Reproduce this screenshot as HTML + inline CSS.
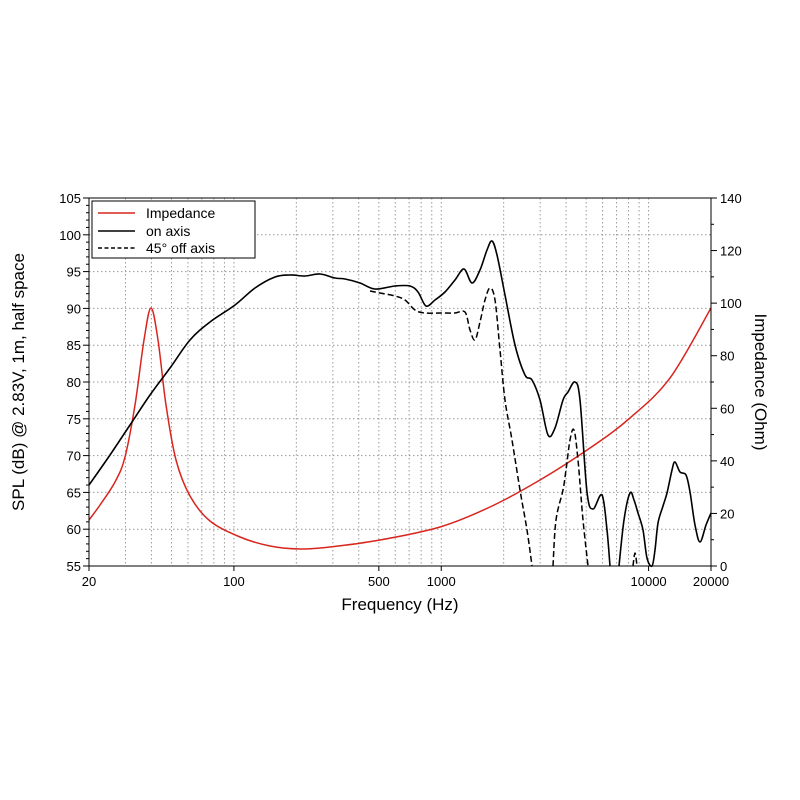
<!DOCTYPE html>
<html><head><meta charset="utf-8"><style>
html,body{margin:0;padding:0;background:#fff;width:800px;height:800px;overflow:hidden}
text{font-family:"Liberation Sans",Arial,sans-serif;fill:#000}
</style></head><body>
<svg id="s" width="800" height="800" xmlns="http://www.w3.org/2000/svg">
<g id="grid" stroke="#999" stroke-width="1" stroke-dasharray="1.5,2.5"></g>
<g id="ticks" stroke="#000" stroke-width="1"></g>
<g id="labels" font-size="13"></g>
<g fill="none" stroke-linejoin="round">
<path id="red" stroke="#d8261e" stroke-width="1.5"/>
<path id="on1" stroke="#000" stroke-width="1.6"/>
<path id="on2" stroke="#000" stroke-width="1.6"/>
<path id="on3" stroke="#000" stroke-width="1.6"/>
<path id="d1" stroke="#000" stroke-width="1.5" stroke-dasharray="6,3"/>
<path id="d2" stroke="#000" stroke-width="1.5" stroke-dasharray="6,3"/>
<path id="d3" stroke="#000" stroke-width="1.5" stroke-dasharray="6,3"/>
</g>
<rect x="89" y="198" width="622" height="368" fill="none" stroke="#000" stroke-width="1"/>
<rect x="92" y="201" width="163" height="57" fill="#fff" stroke="#000" stroke-width="1"/>
<line x1="98" y1="213" x2="135" y2="213" stroke="#d8261e" stroke-width="1.5"/>
<line x1="98" y1="231" x2="135" y2="231" stroke="#000" stroke-width="1.6"/>
<line x1="98" y1="248" x2="135" y2="248" stroke="#000" stroke-width="1.5" stroke-dasharray="4,2.5"/>
<text x="146" y="218" font-size="14">Impedance</text>
<text x="146" y="236" font-size="14">on axis</text>
<text x="146" y="253" font-size="14">45° off axis</text>
<text x="400" y="610" font-size="17" text-anchor="middle">Frequency (Hz)</text>
<text transform="translate(24,382) rotate(-90)" font-size="17" text-anchor="middle">SPL (dB) @ 2.83V, 1m, half space</text>
<text transform="translate(755,382) rotate(90)" font-size="17" text-anchor="middle">Impedance (Ohm)</text>
</svg>
<script>
var L=89,R=711,T=198,B=566,NS="http://www.w3.org/2000/svg";
function X(f){return L+(R-L)/3*Math.log10(f/20);}
function el(p,n,a,t){var e=document.createElementNS(NS,n);for(var k in a)e.setAttribute(k,a[k]);if(t!=null)e.textContent=t;document.getElementById(p).appendChild(e);}
var fs=[30,40,50,60,70,80,90,100,200,300,400,500,600,700,800,900,1000,2000,3000,4000,5000,6000,7000,8000,9000,10000];
fs.forEach(function(f){var x=X(f);el("grid","line",{x1:x,x2:x,y1:T,y2:B});});
for(var d=60;d<=100;d+=5){var y=B-(d-55)*7.36;el("grid","line",{x1:L,x2:R,y1:y,y2:y});}
for(var d=55;d<=105;d++){var y=B-(d-55)*7.36;el("ticks","line",{x1:L-(d%5?3:6),x2:L,y1:y,y2:y});if(d%5==0)el("labels","text",{x:L-8,y:y+5,"text-anchor":"end"},d);}
for(var o=0;o<=140;o+=10){var y=B-o*368/140;el("ticks","line",{x1:R,x2:R+(o%20?3:6),y1:y,y2:y});if(o%20==0)el("labels","text",{x:R+9,y:y+5},o);}
[20,100,500,1000,10000,20000].forEach(function(f){var x=X(f);el("ticks","line",{x1:x,x2:x,y1:B,y2:B+5});el("labels","text",{x:x,y:B+20,"text-anchor":"middle"},f);});
function sm(p){var s="M"+p[0][0]+","+p[0][1];for(var i=0;i<p.length-1;i++){var a=p[i-1]||p[i],b=p[i],c=p[i+1],d=p[i+2]||c;
s+=" C"+(b[0]+(c[0]-a[0])/6).toFixed(1)+","+(b[1]+(c[1]-a[1])/6).toFixed(1)+" "+(c[0]-(d[0]-b[0])/6).toFixed(1)+","+(c[1]-(d[1]-b[1])/6).toFixed(1)+" "+c[0]+","+c[1];}return s;}
function set(id,p){document.getElementById(id).setAttribute("d",sm(p));}
set("red",[[89,520],[100,505],[115,482],[125,457],[135,405],[144,340],[151,308],[158,340],[166,405],[176,460],[190,496],[210,521],[240,537],[270,546],[300,549],[330,547],[380,540],[440,527],[490,507],[540,480],[590,448],[630,418],[670,378],[711,308]]);
set("on1",[[89,485],[110,455],[130,425],[150,395],[170,368],[190,340],[210,322],[235,305],[255,288],[275,277],[290,275],[305,276],[320,274],[335,278],[345,279],[360,283],[375,289],[395,286],[410,286],[418,292],[426,306],[435,300],[445,292],[455,280],[464,269],[472,283],[480,270],[487,250],[492,241],[497,255],[505,295],[515,345],[525,375],[532,380],[540,400],[548,435],[555,428],[563,400],[568,392],[575,382],[580,400],[587,492],[593,509],[602,495],[607,530],[610,566]]);
set("on2",[[619,566],[624,520],[630,493],[634,500],[638,513],[643,530],[647,558],[652,566],[655,550],[658,523],[663,506],[667,493],[672,470],[675,462],[680,472],[686,475],[690,492],[695,525],[700,542],[706,525],[711,513]]);
set("d1",[[370,291],[380,293],[395,296],[405,300],[415,310],[425,313],[440,313],[455,313],[465,312],[470,330],[475,340],[480,322],[485,300],[490,288],[495,300],[500,350],[505,400],[512,440],[520,490],[527,530],[532,566]]);
set("d2",[[553,566],[556,520],[563,490],[566,470],[570,440],[574,430],[578,460],[583,520],[588,566]]);
set("d3",[[633,566],[635,553],[637,566]]);
</script>
</body></html>
